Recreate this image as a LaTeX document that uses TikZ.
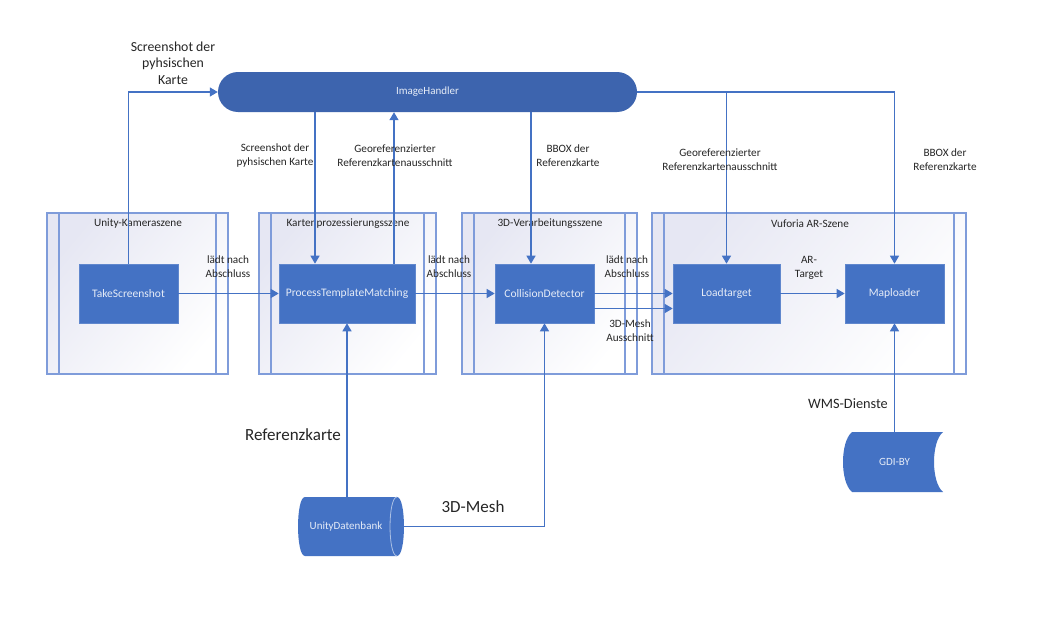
\documentclass[tikz,border=0pt]{standalone}
\usepackage{fontspec}
\setmainfont{Carlito}
\usetikzlibrary{arrows.meta,calc}
\definecolor{boxblue}{HTML}{4472C4}
\definecolor{pillblue}{HTML}{3D64AE}
\definecolor{linblue}{HTML}{4472C4}
\definecolor{contline}{HTML}{7F9CDA}
\definecolor{contfill}{HTML}{E6E7F3}
\definecolor{boxtext}{HTML}{E6ECF7}
\definecolor{lbltext}{HTML}{262626}
\tikzset{
  procbox/.style={rectangle, fill=boxblue, draw=boxblue!85!white, line width=0.6pt, inner sep=0pt,
     minimum height=59, text=boxtext, font=\fontsize{11.5}{13}\selectfont},
  arr/.style={draw=linblue, line width=1.3pt, -{Triangle[length=8pt,width=9pt]}},
  lbl/.style={text=lbltext, align=center, inner sep=0pt, font=\fontsize{11.2}{14}\selectfont},
  biglbl/.style={text=lbltext, align=center, inner sep=0pt, font=\fontsize{17}{19}\selectfont},
  conttitle/.style={text=lbltext, inner sep=0pt, font=\fontsize{11.2}{13}\selectfont},
  contframe/.style={draw=contline, line width=1.1pt},
}
\newcommand{\container}[5]{% name, x1, x2, title x, title
  \shade[left color=contfill, right color=white, shading angle=50] (#2,213) rectangle (#3,374);
  \draw[contframe] (#2,213) rectangle (#3,374);
  \draw[contframe] (#2+12,213) -- (#2+12,374);
  \draw[contframe] (#3-12,213) -- (#3-12,374);
  \node[conttitle] (#1) at (#4,224) {#5};
}
\begin{document}
\begin{tikzpicture}[x=1pt,y=-1pt]
\useasboundingbox[fill=white] (0,0) rectangle (1045,637);

% containers
\container{c1}{47}{228}{138}{Unity-Kameraszene}
\container{c2}{259}{436}{348}{Kartenprozessierungsszene}
\container{c3}{462}{637}{550}{3D-Verarbeitungsszene}
\container{c4}{652}{966}{810}{Vuforia AR-Szene}

% image handler
\node[rectangle, rounded corners=20pt, fill=pillblue, minimum width=419, minimum height=40,
      inner sep=0pt, text=boxtext, font=\fontsize{11}{13}\selectfont] (ih) at (427.5,92) {ImageHandler};

% process boxes
\node[procbox, minimum width=99]  (ts)  at (128.5,293.5) {TakeScreenshot};
\node[procbox, minimum width=136] (ptm) at (347,293.5) {ProcessTemplateMatching};
\node[procbox, minimum width=99]  (cd)  at (544.5,293.5) {CollisionDetector};
\node[procbox, minimum width=107] (lt)  at (726.5,293.5) {Loadtarget};
\node[procbox, minimum width=99]  (ml)  at (894.5,293.5) {Maploader};

% database cylinder
\fill[boxblue] (305,497) -- (397,497) .. controls (406.3,497) and (406.3,556) .. (397,556)
  -- (305,556) .. controls (295.7,556) and (295.7,497) .. (305,497) -- cycle;
\draw[boxblue!45!white, line width=0.8pt] (397,497) .. controls (387.7,497) and (387.7,556) .. (397,556);
\node[rectangle, minimum width=106, minimum height=59, inner sep=0pt, text=boxtext,
      font=\fontsize{11}{13}\selectfont] (db) at (346,526.5) {UnityDatenbank};
\coordinate (dbR) at (404,526.5);

% stored data GDI-BY
\fill[boxblue] (852,432) -- (943,432) .. controls (931,442) and (931,482) .. (943,492)
  -- (852,492) .. controls (840,482) and (840,442) .. (852,432) -- cycle;
\node[rectangle, minimum width=99, minimum height=60, inner sep=0pt, text=boxtext,
      font=\fontsize{11}{13}\selectfont] (gdi) at (894.5,462) {GDI-BY};

% column coordinates
\coordinate (x315) at (315,0);
\coordinate (x394) at (394,0);
\coordinate (x531) at (531,0);

% connectors
\draw[arr] (ts.north) |- (ih.west);
\draw[arr] (ih.south -| x315) -- (ptm.north -| x315);
\draw[arr] (ptm.north -| x394) -- (ih.south -| x394);
\draw[arr] (ih.south -| x531) -- (cd.north -| x531);
\draw[arr] (ih.east) -| (ml.north);
\draw[arr] (ih.east -| lt.north) -- (lt.north);

\draw[arr] (ts.east) -- (ptm.west);
\draw[arr] (ptm.east) -- (cd.west);
\draw[arr] (cd.east) -- (lt.west);
\draw[arr] ($(cd.east)+(0,15)$) -- ($(lt.west)+(0,15)$);
\draw[arr] (lt.east) -- (ml.west);

\draw[arr] (db.north -| ptm.south) -- (ptm.south);
\draw[arr] (dbR) -| (cd.south);
\draw[arr] (gdi.north -| ml.south) -- (ml.south);

% labels
\node[lbl, font=\fontsize{13.8}{16.5}\selectfont] (l1) at (173,63) {Screenshot der\\pyhsischen\\Karte};
\node[lbl] (l2) at (275,156) {Screenshot der\\pyhsischen Karte};
\node[lbl] (l3) at (395,156) {Georeferenzierter\\Referenzkartenausschnitt};
\node[lbl] (l4) at (568,156) {BBOX der\\Referenzkarte};
\node[lbl] (l5) at (720,160) {Georeferenzierter\\Referenzkartenausschnitt};
\node[lbl] (l6) at (945,160) {BBOX der\\Referenzkarte};
\node[lbl] (l7) at (228,267) {lädt nach\\Abschluss};
\node[lbl] (l8) at (449,267) {lädt nach\\Abschluss};
\node[lbl] (l9) at (627,267) {lädt nach\\Abschluss};
\node[lbl] (l10) at (809,268) {AR-\\Target};
\node[lbl] (l11) at (630,331) {3D-Mesh\\Ausschnitt};
\node[biglbl] (l12) at (293,435) {Referenzkarte};
\node[biglbl] (l13) at (473,507) {3D-Mesh};
\node[biglbl, font=\fontsize{14.3}{16}\selectfont] (l14) at (848,404) {WMS-Dienste};
\end{tikzpicture}
\end{document}
